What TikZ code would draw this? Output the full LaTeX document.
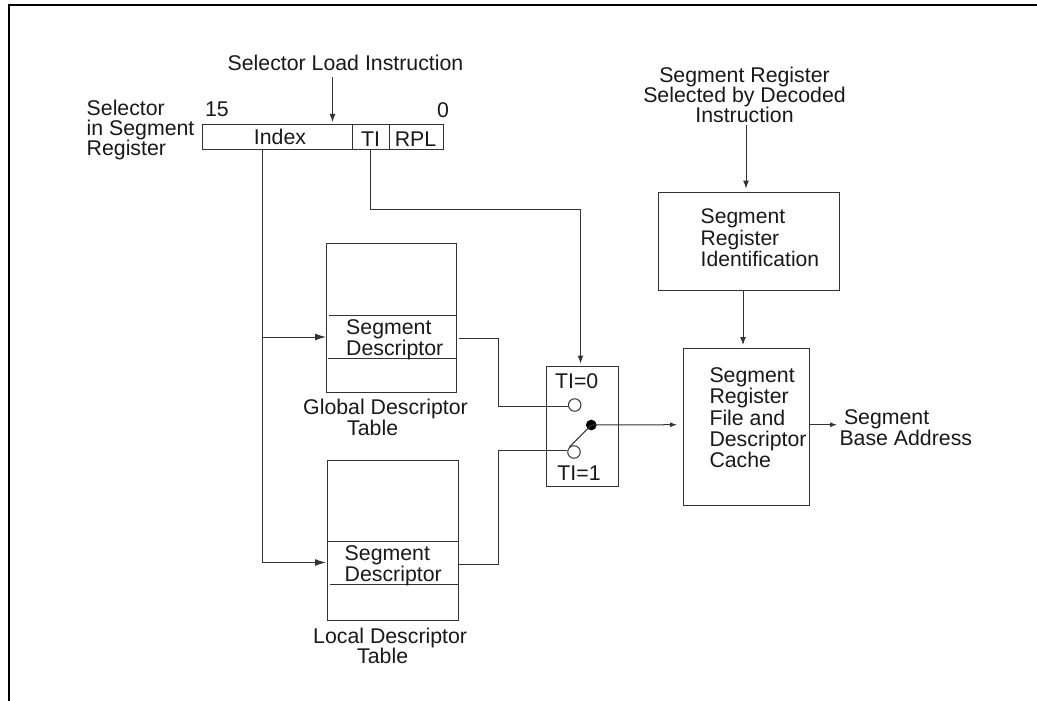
\documentclass[tikz,border=0pt]{standalone}
\usepackage{fontspec}
\setmainfont{Liberation Sans}
\usetikzlibrary{arrows.meta}
\tikzset{
  lbl/.style={inner sep=0pt,font=\fontsize{21.3}{21.2}\selectfont,align=left,text=black!90},
  lbln/.style={inner sep=0pt,font=\fontsize{21.3}{20}\selectfont,align=left,text=black!90},
  lblc/.style={inner sep=0pt,font=\fontsize{21.3}{20}\selectfont,align=center,text=black!90},
  box/.style={draw=black!80,line width=1pt},
  wire/.style={draw=black!80,line width=1pt},
  arr/.style={wire,-{Latex[length=8pt,width=6pt]}},
  arrs/.style={wire,-{Latex[length=7pt,width=5pt]}},
  arrl/.style={wire,-{Latex[length=11pt,width=7pt]}},
  openpt/.style={circle,draw=black!80,fill=white,line width=1pt,minimum size=12.5pt,inner sep=0pt},
  closedpt/.style={circle,fill=black,minimum size=10.7pt,inner sep=0pt}
}
\begin{document}
\begin{tikzpicture}[x=1pt,y=-1pt]
\useasboundingbox (0,0) rectangle (1037,701);
\fill[white] (0,0) rectangle (1037,701);
\draw[line width=2pt] (9,701) -- (9,5) -- (1037,5);
% selector register
\node[box,minimum width=241.5pt,minimum height=25.3pt,inner sep=0pt,anchor=north west] (reg) at (201.7,123.7) {};
\coordinate (d1) at (352.7,123.7); \coordinate (d1b) at (352.7,149);
\coordinate (d2) at (389.5,123.7); \coordinate (d2b) at (389.5,149);
\draw[box] (d1) -- (d1b) (d2) -- (d2b);
\node[lblc] (index) at (280,137) {Index};
\node[lblc] (ti) at (370.5,139) {TI};
\node[lblc] (rpl) at (415.5,139) {RPL};
\node[lblc] (sli) at (345.5,63) {Selector Load Instruction};
\coordinate (sliend) at (332.5,77);
\coordinate (slitip) at (332.5,122);
\draw[arr] (sliend) -- (slitip);
\node[lbln,anchor=west] (sel) at (86.5,130) {Selector\\in Segment\\Register};
\node[lblc] (b15) at (217,109) {15};
\node[lblc] (b0) at (443,110) {0};
% GDT
\node[box,minimum width=130pt,minimum height=149.6pt,inner sep=0pt,anchor=north west] (gdt) at (326.3,242.7) {};
\coordinate (g1a) at (329.3,315.7); \coordinate (g1b) at (455.5,315.7);
\coordinate (g2a) at (328,358.3); \coordinate (g2b) at (456.3,358.3);
\draw[box] (g1a) -- (g1b) (g2a) -- (g2b);
\node[lbl,anchor=west] (gsd) at (346,340) {Segment\\Descriptor};
\node[lbl,anchor=north west] (gl) at (303,399) {Global Descriptor\\\hspace*{44pt}Table};
% LDT
\node[box,minimum width=130.7pt,minimum height=160pt,inner sep=0pt,anchor=north west] (ldt) at (327.3,460) {};
\coordinate (l1a) at (328,541.3); \coordinate (l1b) at (458,541.3);
\coordinate (l2a) at (330,584); \coordinate (l2b) at (458,584);
\draw[box] (l1a) -- (l1b) (l2a) -- (l2b);
\node[lbl,anchor=west] (lsd) at (344.5,565.5) {Segment\\Descriptor};
\node[lbln,anchor=north west] (ll) at (313,628) {Local Descriptor\\\hspace*{44pt}Table};
% switch
\node[box,minimum width=72.6pt,minimum height=119.4pt,inner sep=0pt,anchor=north west] (sw) at (545.7,366.3) {};
\node[lblc] (t0) at (576.7,381) {TI=0};
\node[lblc] (t1) at (579,473) {TI=1};
% wires under the switch contacts
\coordinate (gout) at (458.7,338.7);
\coordinate (gmid) at (498.4,338.7);
\coordinate (lout) at (459,564.3);
\coordinate (lmid) at (498.4,564.3);
\node[openpt] (o0) at (574.7,405) {};
\node[openpt] (o1) at (574,452) {};
\node[closedpt] (c) at (591.3,425) {};
\draw[wire] (gout) -- (gmid) |- (o0.194);
\draw[wire] (lout) -- (lmid) |- (o1.168);
\draw[wire] (o1.135) -- (c.center);
% right boxes
\node[lblc] (srs) at (744.5,95) {Segment Register\\[0.5pt]Selected by Decoded\\Instruction};
\node[box,minimum width=180.4pt,minimum height=98pt,inner sep=0pt,anchor=north west] (sri) at (658.3,192.3) {};
\node[lbl,anchor=west,font=\fontsize{21.1}{21.6}\selectfont] (srit) at (700.5,238) {Segment\\Register\\Identification};
\node[box,minimum width=126pt,minimum height=157.3pt,inner sep=0pt,anchor=north west] (file) at (683.3,347.7) {};
\node[lbl,anchor=west] (filet) at (709.3,417.7) {Segment\\Register\\File and\\Descriptor\\Cache};
\node[lbl,anchor=west] (sba) at (839.3,428) {\hspace*{4.5pt}Segment\\Base Address};
% connectors
\coordinate (idx) at (262.3,149);
\coordinate (j1) at (262.3,337);
\coordinate (j2) at (262.3,562.5);
\draw[wire] (idx) -- (j2);
\draw[arrl] (j1) -- (326,337);
\draw[arrl] (j2) -- (326,562.5);
\coordinate (tis) at (370.7,149);
\coordinate (tic) at (580.5,209);
\coordinate (swtop) at (580.5,363.5);
\draw[arr] (tis) |- (tic) -- (swtop);
\coordinate (cout) at (677,424.7);
\draw[arrs] (c.center) -- (cout);
\coordinate (srsb) at (746,125);
\coordinate (sritop) at (746,188.5);
\draw[arr] (srsb) -- (sritop);
\coordinate (fa) at (743,290.3);
\coordinate (fb) at (743,345);
\draw[arr] (fa) -- (fb);
\coordinate (foa) at (809.3,424.7);
\coordinate (sbae) at (837,424.7);
\draw[arrs] (foa) -- (sbae);
\end{tikzpicture}
\end{document}
